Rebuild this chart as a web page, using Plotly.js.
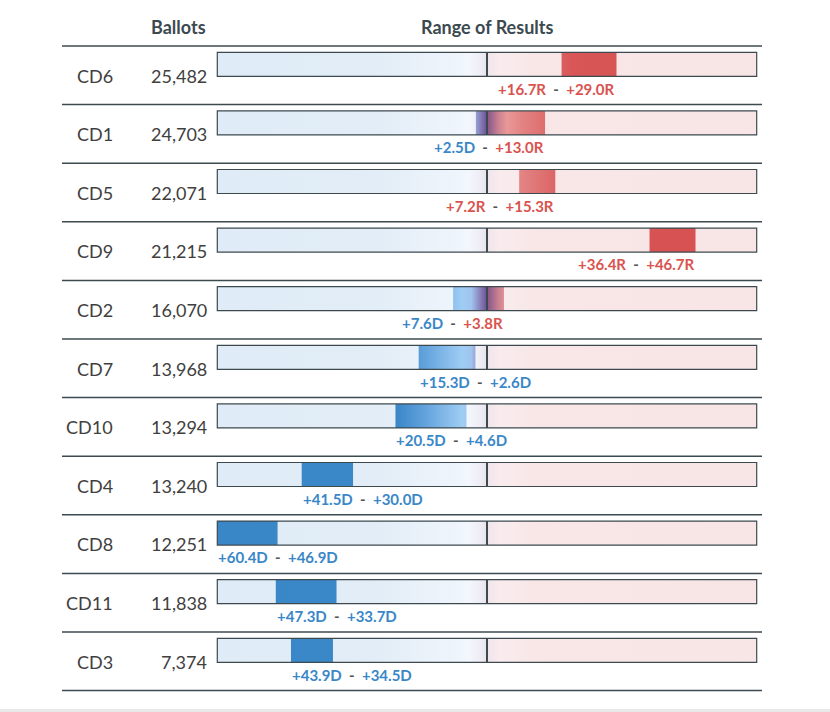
<!DOCTYPE html>
<html>
<head>
<meta charset="utf-8">
<script src="https://cdn.plot.ly/plotly-3.0.1.min.js"></script>
<style>
html,body{margin:0;padding:0;background:#fff;}
#chart{width:830px;height:712px;}
</style>
</head>
<body>
<div id="chart"></div>
<script>
// ---- data ----
const districts = ['CD6','CD1','CD5','CD9','CD2','CD7','CD10','CD4','CD8','CD11','CD3'];
const ballots = [25482, 24703, 22071, 21215, 16070, 13968, 13294, 13240, 12251, 11838, 7374];
// signed margins: negative = Democratic, positive = Republican
const rangeLow  = [16.7, -2.5,  7.2, 36.4, -7.6, -15.3, -20.5, -41.5, -60.4, -47.3, -43.9];
const rangeHigh = [29.0, 13.0, 15.3, 46.7,  3.8,  -2.6,  -4.6, -30.0, -46.9, -33.7, -34.5];
const headers = ['Ballots', 'Range of Results'];

// ---- layout constants (pixels) ----
const W = 830, H = 712;
const CENTER_PX = 487, HALF_PX = 269.7;
const M = Math.max(...rangeLow.map(Math.abs), ...rangeHigh.map(Math.abs));
const pxPerUnit = HALF_PX / M;
const xRange = [(0 - CENTER_PX) / pxPerUnit, (W - CENTER_PX) / pxPerUnit];
const HEADER_LINE = 46, ROW_H = 58.6;
const DARK = '#3c4a50';
const BLUE = '#3a87c8', RED = '#d9534f';

function scale(stops) {
  return stops.map(s => [(s[0] + M) / (2 * M), s[1]]);
}
const rangeScale = scale([
  [-M, '#3a87c8'], [-20, '#3b88c9'], [-14, '#62a2dc'], [-5.5, '#9fcdf4'],
  [-3.5, '#a0c4ee'], [-2, '#9090c8'], [-0.3, '#74589a'], [0, '#6c4c8a'],
  [0.3, '#8a5a8c'], [2.5, '#c88090'], [4.5, '#ea9898'], [8, '#e38282'],
  [14, '#dd6a6a'], [19, '#d85656'], [M, '#d65050']
]);
const bgScale = scale([
  [-M, '#dfebf6'], [-25, '#e2edf7'], [-8, '#eef4fb'], [-4, '#f3f6fd'],
  [-1.5, '#efedf4'], [0, '#e9e2ea'], [0.5, '#f3e6ec'], [3, '#f9ecee'],
  [10, '#f9e7e8'], [M, '#f8e5e5']
]);

function fmt(v) {
  return '+' + Math.abs(v).toFixed(1) + (v < 0 ? 'D' : 'R');
}
function colored(v) {
  return '<span style="color:' + (v < 0 ? BLUE : RED) + '">' + fmt(v) + '</span>';
}

const traces = [];
const shapes = [];
const annotations = [];

// header
annotations.push({xref:'paper', yref:'y', x: 208 / W, y: 27, xanchor:'right', yanchor:'middle',
  text: headers[0], showarrow:false, font:{family:'Lato', size:18, color:DARK, weight:700}});
annotations.push({xref:'x', yref:'y', x: 0, y: 27, xanchor:'center', yanchor:'middle',
  text: headers[1], showarrow:false, font:{family:'Lato', size:18, color:DARK, weight:700}});
shapes.push({type:'line', xref:'paper', yref:'y', x0: 62 / W, x1: 762 / W, y0: HEADER_LINE, y1: HEADER_LINE,
  line:{color:DARK, width:1.5}});

districts.forEach((d, i) => {
  const top = HEADER_LINE + ROW_H * i;
  const bTop = top + 6.3, bBot = top + 30.3;
  const lo = rangeLow[i], hi = rangeHigh[i];
  // background bar
  traces.push({type:'scatter', mode:'none', fill:'toself', hoverinfo:'skip', showlegend:false,
    x:[-M, M, M, -M, -M], y:[bTop, bTop, bBot, bBot, bTop],
    fillgradient:{type:'horizontal', colorscale:bgScale, start:-M, stop:M}});
  // range
  traces.push({type:'scatter', mode:'none', fill:'toself', hoverinfo:'skip', showlegend:false,
    x:[lo, hi, hi, lo, lo], y:[bTop, bTop, bBot, bBot, bTop],
    fillgradient:{type:'horizontal', colorscale:rangeScale, start:-M, stop:M}});
  // border and center line
  shapes.push({type:'rect', xref:'x', yref:'y', x0:-M, x1:M, y0:bTop, y1:bBot,
    line:{color:DARK, width:1.2}, fillcolor:'rgba(0,0,0,0)'});
  shapes.push({type:'line', xref:'x', yref:'y', x0:0, x1:0, y0:bTop, y1:bBot,
    line:{color:DARK, width:2}});
  // row separator
  shapes.push({type:'line', xref:'paper', yref:'y', x0: 62 / W, x1: 762 / W,
    y0: top + ROW_H, y1: top + ROW_H, line:{color:DARK, width:1.5}});
  // district + ballots
  annotations.push({xref:'paper', yref:'y', x: 115 / W, y: top + 29.5, xanchor:'right', yanchor:'middle',
    text: d, showarrow:false, font:{family:'Lato', size:18, color:'#404040'}});
  annotations.push({xref:'paper', yref:'y', x: 209 / W, y: top + 29.5, xanchor:'right', yanchor:'middle',
    text: ballots[i].toLocaleString('en-US'), showarrow:false, font:{family:'Lato', size:18, color:'#404040'}});
  // range label
  const rightAlign = hi > 0;
  annotations.push({xref:'x', yref:'y', x: rightAlign ? hi : lo, y: top + 42.5,
    xanchor: rightAlign ? 'right' : 'left', yanchor:'middle', showarrow:false,
    text: colored(lo) + '<span style="color:#555">&nbsp;&nbsp;-&nbsp;&nbsp;</span>' + colored(hi),
    font:{family:'Lato', size:15, weight:700}, borderpad:0});
});

// bottom page band
shapes.push({type:'rect', xref:'paper', yref:'paper', x0:0, x1:1, y0:0, y1:3 / H,
  fillcolor:'#e8e8e8', line:{width:0}, layer:'below'});

const layout = {
  width: W, height: H,
  margin:{l:0, r:0, t:0, b:0, pad:0},
  paper_bgcolor:'#fff', plot_bgcolor:'#fff',
  xaxis:{range:xRange, visible:false, fixedrange:true},
  yaxis:{range:[H, 0], visible:false, fixedrange:true},
  shapes, annotations, showlegend:false
};
Plotly.newPlot('chart', traces, layout, {displayModeBar:false, staticPlot:true});
</script>
</body>
</html>
